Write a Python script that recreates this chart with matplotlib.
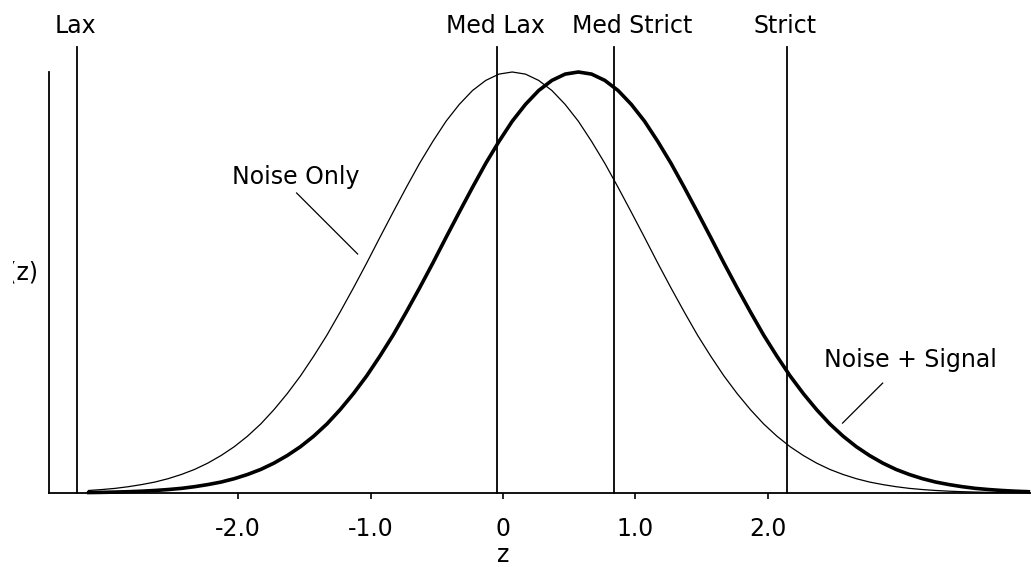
import numpy as np
import matplotlib
matplotlib.use("Agg")
import matplotlib.pyplot as plt
from matplotlib.transforms import Bbox

# ---- data ----
# sample positions along z (step 0.1)
z = np.round(np.arange(-3.13, 3.98, 0.1), 2)
# relative density heights (peak = 1)
noise_only = [0.006, 0.0082, 0.011, 0.015, 0.020, 0.026, 0.034, 0.044, 0.056, 0.071,
              0.089, 0.110, 0.135, 0.164, 0.198, 0.236, 0.278, 0.325, 0.375, 0.430,
              0.487, 0.546, 0.607, 0.667, 0.726, 0.783, 0.835, 0.883, 0.923, 0.956,
              0.980, 0.995, 1.000, 0.995, 0.980, 0.956, 0.923, 0.883, 0.835, 0.783,
              0.726, 0.667, 0.607, 0.546, 0.487, 0.430, 0.375, 0.325, 0.278, 0.236,
              0.198, 0.164, 0.135, 0.110, 0.089, 0.071, 0.056, 0.044, 0.034, 0.026,
              0.020, 0.015, 0.011, 0.0082, 0.006, 0.0043, 0.0031, 0.0022, 0.0015, 0.0011,
              0.0007, 0.0005]
noise_signal = [0.0011, 0.0015, 0.0022, 0.0031, 0.0043, 0.006, 0.0082, 0.011, 0.015, 0.020,
                0.026, 0.034, 0.044, 0.056, 0.071, 0.089, 0.110, 0.135, 0.164, 0.198,
                0.236, 0.278, 0.325, 0.375, 0.430, 0.487, 0.546, 0.607, 0.667, 0.726,
                0.783, 0.835, 0.883, 0.923, 0.956, 0.980, 0.995, 1.000, 0.995, 0.980,
                0.956, 0.923, 0.883, 0.835, 0.783, 0.726, 0.667, 0.607, 0.546, 0.487,
                0.430, 0.375, 0.325, 0.278, 0.236, 0.198, 0.164, 0.135, 0.110, 0.089,
                0.071, 0.056, 0.044, 0.034, 0.026, 0.020, 0.015, 0.011, 0.0082, 0.006,
                0.0043, 0.0031]
criteria_names = ["Lax", "Med Lax", "Med Strict", "Strict"]
criteria_z = [-3.22, -0.045, 0.84, 2.15]
criteria_label_z = [-3.23, -0.06, 0.98, 2.13]
tick_values = [-2, -1, 0, 1, 2]
tick_labels = ["-2.0", "-1.0", "0", "1.0", "2.0"]

FS = 17
plt.rcParams['font.family'] = ['DejaVu Sans']

fig = plt.figure(figsize=(10.31, 5.67), dpi=100)
ax = fig.add_axes([49/1031, 74/567, 1 - 49/1031, 421/567])

ax.plot(z, noise_only, color='black', lw=0.9, clip_on=False)
ax.plot(z, noise_signal, color='black', lw=2.6, clip_on=False)

for name, cz, lz in zip(criteria_names, criteria_z, criteria_label_z):
    ax.plot([cz, cz], [0, 1.06], color='black', lw=1.3, clip_on=False)
    ax.text(lz, 1.11, name, ha='center', va='center', fontsize=FS)

# annotations
ax.text(-1.563, 0.751, "Noise Only", ha='center', va='center', fontsize=FS)
ax.plot([-1.559, -1.098], [0.7126, 0.5677], color='black', lw=0.9)
ax.text(3.08, 0.316, "Noise + Signal", ha='center', va='center', fontsize=FS)
ax.plot([2.869, 2.566], [0.261, 0.166], color='black', lw=0.9)

ax.set_xlim(-3.43, 3.99)
ax.set_ylim(0, 1.0)
for s in ['top', 'right']:
    ax.spines[s].set_visible(False)
ax.spines['left'].set_linewidth(1.3)
ax.spines['bottom'].set_linewidth(1.3)
ax.set_yticks([])
ax.set_xticks(tick_values)
ax.set_xticklabels(tick_labels, fontsize=FS)
ax.tick_params(axis='x', direction='out', length=4, width=1.2, pad=13)

# y label, cut off at the left edge as in the original
ylab = fig.text(38/1031, 1 - 273/567, "f(z)", ha='right', va='center', fontsize=FS)
ylab.set_clip_box(Bbox.from_extents(13, 0, 1031, 567))
ylab.set_clip_on(True)
fig.text(503/1031, 1 - 555/567, "z", ha='center', va='center', fontsize=FS)

fig.savefig("out.png", dpi=100)
